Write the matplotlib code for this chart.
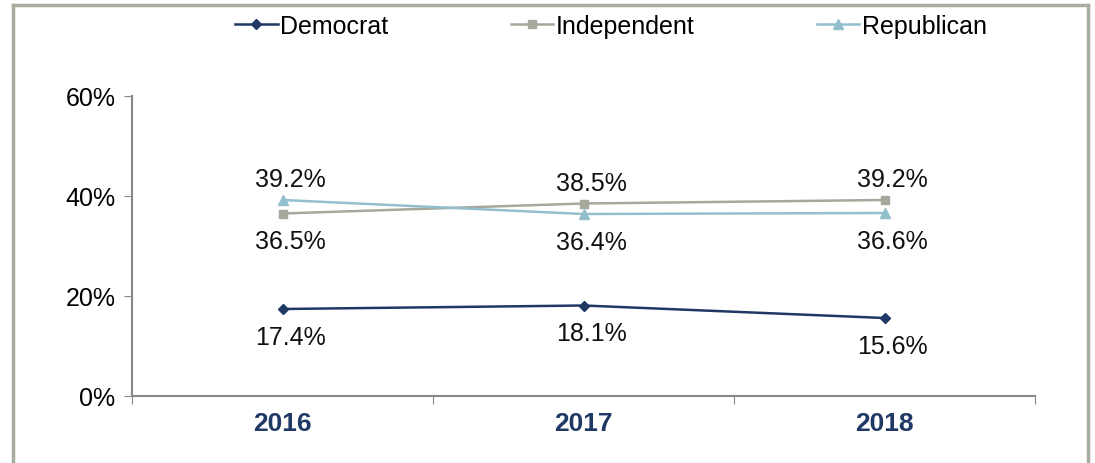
import matplotlib.pyplot as plt

plt.rcParams['font.family'] = ['Liberation Sans', 'DejaVu Sans']

years = ['2016', '2017', '2018']
democrat = [17.4, 18.1, 15.6]
independent = [36.5, 38.5, 39.2]
republican = [39.2, 36.4, 36.6]

# label placement: +1 above the point, -1 below
dem_side = [-1, -1, -1]
ind_side = [-1, 1, 1]
rep_side = [1, -1, -1]

fig = plt.figure(figsize=(10.95, 4.64), dpi=100)
ax = fig.add_axes([132 / 1095, 1 - 397 / 464, 903 / 1095, 300 / 464])

# outer frame (open at bottom)
frame = '#a7ad9f'
xl, xr, yt = 12.5 / 1095, 1087.5 / 1095, 1 - 5.5 / 464
fig.add_artist(plt.Line2D([xl, xl], [0, yt], transform=fig.transFigure, color=frame, lw=2.5))
fig.add_artist(plt.Line2D([xl, xr], [yt, yt], transform=fig.transFigure, color=frame, lw=2.5))
fig.add_artist(plt.Line2D([xr, xr], [0, yt], transform=fig.transFigure, color=frame, lw=2.5))

x = range(len(years))
series = [
    ('Democrat', democrat, dem_side, '#1f3864', 'D', 5),
    ('Independent', independent, ind_side, '#a5a89b', 's', 6),
    ('Republican', republican, rep_side, '#93bfcd', '^', 7),
]
for name, vals, sides, color, marker, ms in series:
    ax.plot(x, vals, color=color, lw=1.8, marker=marker, markersize=ms, label=name)
    for xi, v, s in zip(x, vals, sides):
        off = 15 if s > 0 else -20
        ax.annotate(f'{v:.1f}%', (xi, v), xytext=(6, off), textcoords='offset points',
                    ha='center', va='center', fontsize=18, color='#111111')

ax.set_xlim(-0.5, 2.5)
ax.set_ylim(0, 60)
ax.set_yticks([0, 20, 40, 60])
ax.set_yticklabels(['0%', '20%', '40%', '60%'], fontsize=18)
ax.set_xticks([-0.5, 0.5, 1.5, 2.5])
ax.set_xticklabels([])
ax.set_xticks(list(x), minor=True)
ax.set_xticklabels(years, minor=True, fontsize=19, fontweight='bold', color='#1f3864')
ax.tick_params(axis='x', which='minor', length=0, pad=11)
ax.tick_params(axis='x', which='major', length=6, color='#888888', direction='out')
ax.tick_params(axis='y', length=6, color='#888888', pad=6)

for sp in ['top', 'right']:
    ax.spines[sp].set_visible(False)
for sp in ['left', 'bottom']:
    ax.spines[sp].set_color('#888888')
    ax.spines[sp].set_linewidth(1.5)

fig.legend(loc='upper center', bbox_to_anchor=(0.558, 1.0), ncol=3, frameon=False,
           fontsize=18, handlelength=1.7, handletextpad=0.1, columnspacing=4.9,
           borderaxespad=0.2)

fig.savefig('out.png', dpi=100)
